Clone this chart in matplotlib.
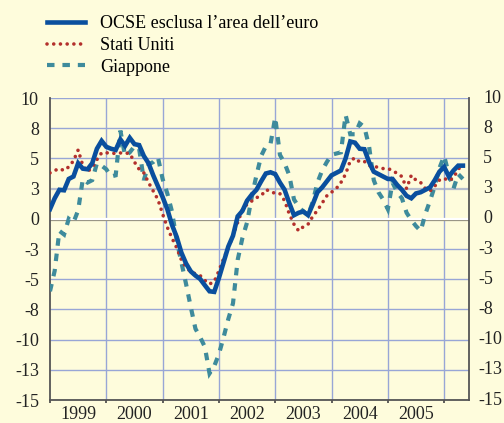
import matplotlib
matplotlib.use("Agg")
import matplotlib.pyplot as plt
import matplotlib.transforms as mtransforms
import numpy as np

# monthly growth rates, Jan 1999 - May 2006
ocse = [0.8, 1.7, 2.4, 2.36, 3.3, 3.5, 4.6, 4.15, 4.1, 4.6, 5.8, 6.45,
        5.96, 5.8, 5.7, 6.57, 6.04, 6.7, 6.18, 6.1, 5.2, 4.6, 3.6, 2.7,
        1.8, 0.8, -0.5, -1.5, -2.8, -3.7, -4.35, -4.7, -4.98, -5.5, -6.0, -6.05,
        -4.9, -3.6, -2.3, -1.4, 0.2, 0.65, 1.5, 2.0, 2.4, 3.1, 3.75, 3.85,
        3.7, 3.0, 2.4, 1.3, 0.3, 0.5, 0.6, 0.3, 1.2, 2.2, 2.6, 3.1,
        3.6, 3.8, 4.0, 5.0, 6.4, 6.3, 5.8, 5.76, 4.7, 3.9, 3.7, 3.5,
        3.3, 3.3, 2.8, 2.4, 1.9, 1.7, 2.1, 2.2, 2.4, 2.6, 3.2, 3.9,
        4.3, 3.5, 4.0, 4.4, 4.4]
usa = [3.8, 4.0, 4.15, 4.0, 4.3, 4.8, 5.7, 4.4, 3.9, 4.25, 4.9, 5.46,
       5.46, 5.45, 5.4, 5.45, 5.45, 5.4, 4.7, 4.1, 3.8, 3.0, 2.3, 1.6,
       0.4, -0.7, -1.6, -2.4, -3.4, -4.0, -4.4, -4.55, -4.7, -5.1, -5.4, -5.2,
       -4.3, -3.3, -2.4, -1.4, -0.3, 0.75, 1.2, 1.47, 1.75, 1.9, 2.4, 2.3,
       2.08, 2.08, 1.5, 0.4, -0.45, -1.0, -0.65, -0.45, 0.2, 0.7, 1.3, 1.9,
       2.2, 2.5, 3.0, 3.7, 4.8, 5.05, 4.7, 4.75, 4.4, 4.35, 4.25, 4.16,
       4.16, 4.0, 3.75, 3.5, 2.5, 3.6, 3.2, 3.0, 2.5, 2.3, 2.7, 3.2,
       3.35, 3.15, 3.4, 4.1, 4.5]
giappone = [-6.0, -4.3, -1.0, -1.3, 0.0, -0.3, 0.7, 3.3, 3.0, 3.2, 4.6, 4.4,
            4.1, 3.5, 3.6, 7.3, 5.2, 5.5, 6.0, 5.8, 3.2, 4.5, 4.7, 5.1,
            3.3, 2.1, 0.6, -1.8, -3.6, -5.4, -7.3, -9.1, -9.8, -10.6, -12.8, -12.2,
            -11.2, -9.8, -8.3, -7.0, -3.4, -1.6, -0.3, 1.8, 3.6, 5.2, 6.0, 6.2,
            8.4, 5.3, 4.6, 3.6, 1.6, 1.0, 0.6, 0.3, 1.4, 3.0, 4.0, 4.7,
            5.3, 5.4, 5.5, 8.6, 7.0, 7.0, 7.9, 7.6, 6.0, 3.2, 2.2, 1.6,
            0.8, 3.0, 2.2, 1.7, 0.5, -0.1, -0.6, -1.0, 0.4, 1.5, 2.7, 4.2,
            5.2, 3.7, 2.5, 3.7, 3.3]

years = [1999, 2000, 2001, 2002, 2003, 2004, 2005]
yticks = [10, 7.5, 5, 2.5, 0, -2.5, -5, -7.5, -10, -12.5, -15]
ytick_labels = ["10", "8", "5", "3", "0", "-3", "-5", "-8", "-10", "-13", "-15"]

bg = "#fefcdc"
plt.rcParams["font.family"] = ["Liberation Serif", "DejaVu Serif"]
fs = 13

fig = plt.figure(figsize=(5.04, 4.23), dpi=100, facecolor=bg)
ax = fig.add_axes([50 / 504, 1 - 400 / 423, 419 / 504, 302 / 423])
ax.set_facecolor(bg)

t = 1999 + np.arange(len(ocse)) / 12.0

# grid
for v in yticks:
    if v == 0:
        continue
    if v == 2.5:
        ax.axhline(v, color="#b4bccc", lw=1.6, zorder=1)
    else:
        ax.axhline(v, color="#98a6d6", lw=1.0, zorder=1)
for yr in years[1:] + [2006]:
    ax.axvline(yr, color="#98a6d6", lw=1.0, zorder=1)

# zero line: white with grey shadow below
ytr = ax.get_yaxis_transform()
shadow = mtransforms.offset_copy(ytr, fig=fig, y=-1.5, units="dots")
ax.plot([0, 1], [0, 0], color="#8e8a78", lw=1.6, zorder=2, transform=shadow)
ax.plot([0, 1], [0, 0], color="white", lw=1.6, zorder=2, transform=ytr)

ax.plot(t, giappone, color="#3e8b9c", lw=3.0, linestyle=(0, (1.8, 1.9)),
        dash_joinstyle="miter", dash_capstyle="butt", zorder=3, label="Giappone")
ax.plot(t, usa, color="#b3302c", lw=2.6, linestyle=(0, (0.01, 1.85)),
        dash_capstyle="round", zorder=4, label="Stati Uniti")
ax.plot(t, ocse, color="#0a4f9e", lw=3.3, solid_joinstyle="miter",
        zorder=5, label="OCSE esclusa l\u2019area dell\u2019euro")

ax.set_xlim(1999, 1999 + 89.3 / 12)
ax.set_ylim(-15, 10)

ax.set_yticks(yticks)
ax.set_yticklabels(ytick_labels)
ax.tick_params(axis="y", length=0, pad=8.0, labelsize=fs, colors="#222222")

ax.set_xticks(years + [2006])
ax.set_xticklabels([])
ax.set_xticks([y + 0.5 for y in years], minor=True)
ax.set_xticklabels([str(y) for y in years], minor=True)
ax.tick_params(axis="x", which="major", direction="out", length=2.5, width=1.2, color="#444444")
ax.tick_params(axis="x", which="minor", length=0, pad=4, labelsize=fs, colors="#222222")

# right-hand labels, minus sign hanging to the left
for v, lab in zip(yticks, ytick_labels):
    dx = 9 if lab.startswith("-") else 14
    tr = mtransforms.offset_copy(ytr, fig=fig, x=dx, units="dots")
    ax.text(1.0, v, lab, transform=tr, ha="left", va="center",
            fontsize=fs, color="#222222", clip_on=False)

for s in ["left", "bottom", "right"]:
    ax.spines[s].set_color("#555555")
    ax.spines[s].set_linewidth(1.3)
ax.spines["top"].set_visible(False)

h, l = ax.get_legend_handles_labels()
order = [2, 1, 0]
leg = fig.legend([h[i] for i in order], [l[i] for i in order], loc="upper left",
                 bbox_to_anchor=(47 / 504, 1 - 15.5 / 423), frameon=False,
                 fontsize=fs, handlelength=2.1, handletextpad=0.85,
                 labelspacing=0.25, borderpad=0, borderaxespad=0)

fig.savefig("out.png", dpi=100, facecolor=bg)
